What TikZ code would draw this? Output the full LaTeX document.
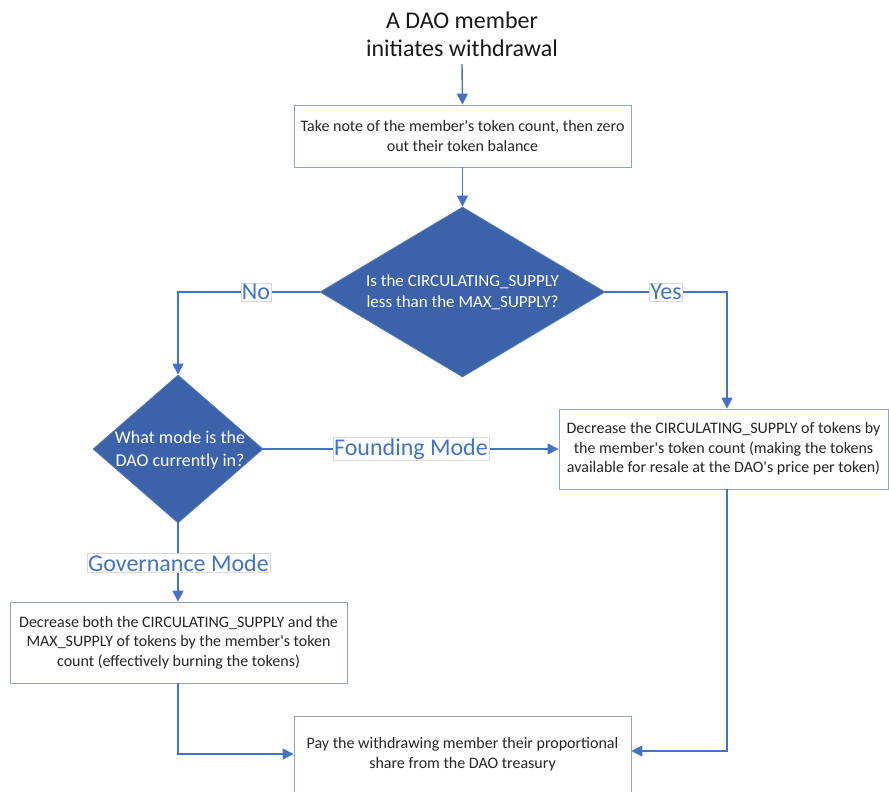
\documentclass[tikz,border=0pt]{standalone}
\usepackage{fontspec}
\setmainfont{Carlito}
\usetikzlibrary{arrows.meta,shapes.geometric}
\definecolor{lineblue}{HTML}{4472C4}
\definecolor{diafill}{HTML}{3C62A9}
\definecolor{boxline}{HTML}{8FA3C6}
\definecolor{lblline}{HTML}{D9D9D9}
\newcommand{\apos}{\textquotesingle}
\begin{document}
\begin{tikzpicture}[x=1pt,y=-1pt,
  procbox/.style={draw=boxline,line width=0.8pt,fill=white,rectangle,inner sep=0pt,align=center,font=\fontsize{16}{19.5}\selectfont,text=black!85},
  decision/.style={fill=diafill,draw=diafill!85!white,line width=0.8pt,diamond,inner sep=0pt},
  dtext/.style={align=center,text=white,inner sep=0pt},
  conn/.style={draw=lineblue,line width=1.4pt,-{Triangle[length=11pt,width=11pt]}},
  lbl/.style={fill=white,draw=lblline,line width=0.4pt,text=lineblue,inner sep=1pt,font=\fontsize{24}{26}\selectfont}]
\useasboundingbox (0,0) rectangle (889,792);
\fill[white] (0,0) rectangle (889,792);

\node[align=center,font=\fontsize{24}{28}\selectfont,text=black!90] (title) at (462,34) {A DAO member\\initiates withdrawal};
\coordinate (titlebot) at (462,64);

\node[procbox,minimum width=337,minimum height=62] (b1) at (462.5,136) {Take note of the member\apos s token count, then zero\\out their token balance};

\node[decision,minimum width=285,minimum height=170] (d1) at (462.5,292) {};
\node[dtext,font=\fontsize{17}{21}\selectfont] (d1t) at (d1.center) {Is the CIRCULATING\_SUPPLY\\less than the MAX\_SUPPLY?};

\node[decision,minimum width=170,minimum height=148] (d2) at (178,449) {};
\node[dtext,font=\fontsize{18}{23}\selectfont] (d2t) at (180,450) {What mode is the\\DAO currently in?};

\node[procbox,minimum width=329,minimum height=80] (b2) at (723.5,449) {Decrease the CIRCULATING\_SUPPLY of tokens by\\the member\apos s token count (making the tokens\\available for resale at the DAO\apos s price per token)};

\node[procbox,minimum width=337,minimum height=81] (b3) at (178.5,642.5) {Decrease both the CIRCULATING\_SUPPLY and the\\MAX\_SUPPLY of tokens by the member\apos s token\\count (effectively burning the tokens)};

\node[procbox,minimum width=337,minimum height=76] (b4) at (462.5,754) {Pay the withdrawing member their proportional\\share from the DAO treasury};

\draw[conn] (titlebot) -- (b1.north);
\draw[conn] (b1.south) -- (d1.north);

\draw[conn] (d1.west) -| (d2.north);
\node[lbl] (no) at (256,292) {No};

\draw[conn] (d1.east) -| (b2.north -| 727,0);
\node[lbl] (yes) at (666,292) {Yes};

\draw[conn] (d2.east) -- (b2.west);
\node[lbl] (found) at (411,449) {Founding Mode};

\draw[conn] (d2.south) -- (b3.north -| d2.south);
\node[lbl] (gov) at (178.5,563) {Governance Mode};

\draw[conn] (b3.south -| d2.south) |- (b4.west);
\draw[conn] (b2.south -| 727,0) |- ([yshift=3]b4.east);
\end{tikzpicture}
\end{document}
